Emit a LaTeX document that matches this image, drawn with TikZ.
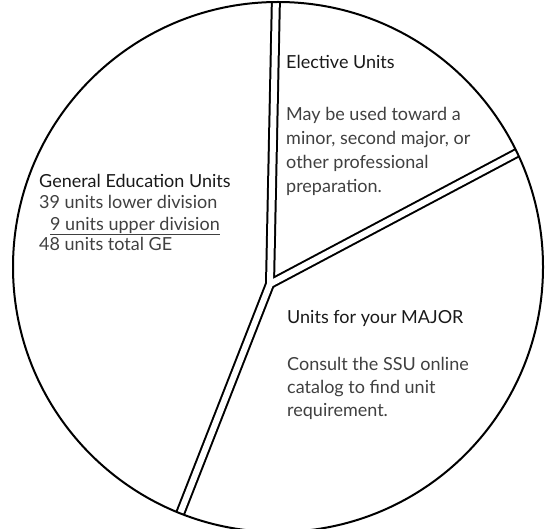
\documentclass[tikz,border=0pt]{standalone}
\usepackage{fontspec}
\setmainfont{Lato}

\begin{document}
\begin{tikzpicture}[x=1pt,y=-1pt,
    rim/.style={line width=2pt},
    divider/.style={line width=10pt,line cap=round},
    gap/.style={white,line width=6pt,line cap=round},
    heading/.style={anchor=base west,inner sep=0pt,text=black!90,font=\fontsize{18}{22}\selectfont},
    body/.style={anchor=base west,inner sep=0pt,text=black!75,font=\fontsize{18}{22}\selectfont}]
        \useasboundingbox (0,0) rectangle (548,529);
        \coordinate (C) at (278,267);
        \coordinate (O) at (270,284);
        \coordinate (top) at (276,-5);
        \coordinate (right) at (530,146);
        \coordinate (bottom) at (176,524);

        \begin{scope}
            \clip (C) circle[radius=265pt];
            \foreach \e in {top,right,bottom} \draw[divider] (O)--(\e);
            \foreach \e in {top,right,bottom} \draw[gap] (O)--(\e);
        \end{scope}
        \draw[rim] (C) circle[radius=265pt];

        \node[heading] (elect) at (286,69) {Elective Units};
        \node[body] (elect1) at (286,121) {May be used toward a};
        \node[body] (elect2) at (286,145) {minor, second major, or};
        \node[body] (elect3) at (286,169) {other professional};
        \node[body] (elect4) at (286,193) {preparation.};

        \node[heading] (gened) at (39,188) {General Education Units};
        \node[body] (gened1) at (39,209) {39 units lower division};
        \node[body] (gened2) at (50,230) {\underline{9 units upper division}};
        \node[body] (gened3) at (39,251) {48 units total GE};

        \node[heading] (major) at (287,323) {Units for your MAJOR};
        \node[body] (major1) at (287,370) {Consult the SSU online};
        \node[body] (major2) at (287,393) {catalog to find unit};
        \node[body] (major3) at (287,416) {requirement.};
    \end{tikzpicture}
\end{document}
